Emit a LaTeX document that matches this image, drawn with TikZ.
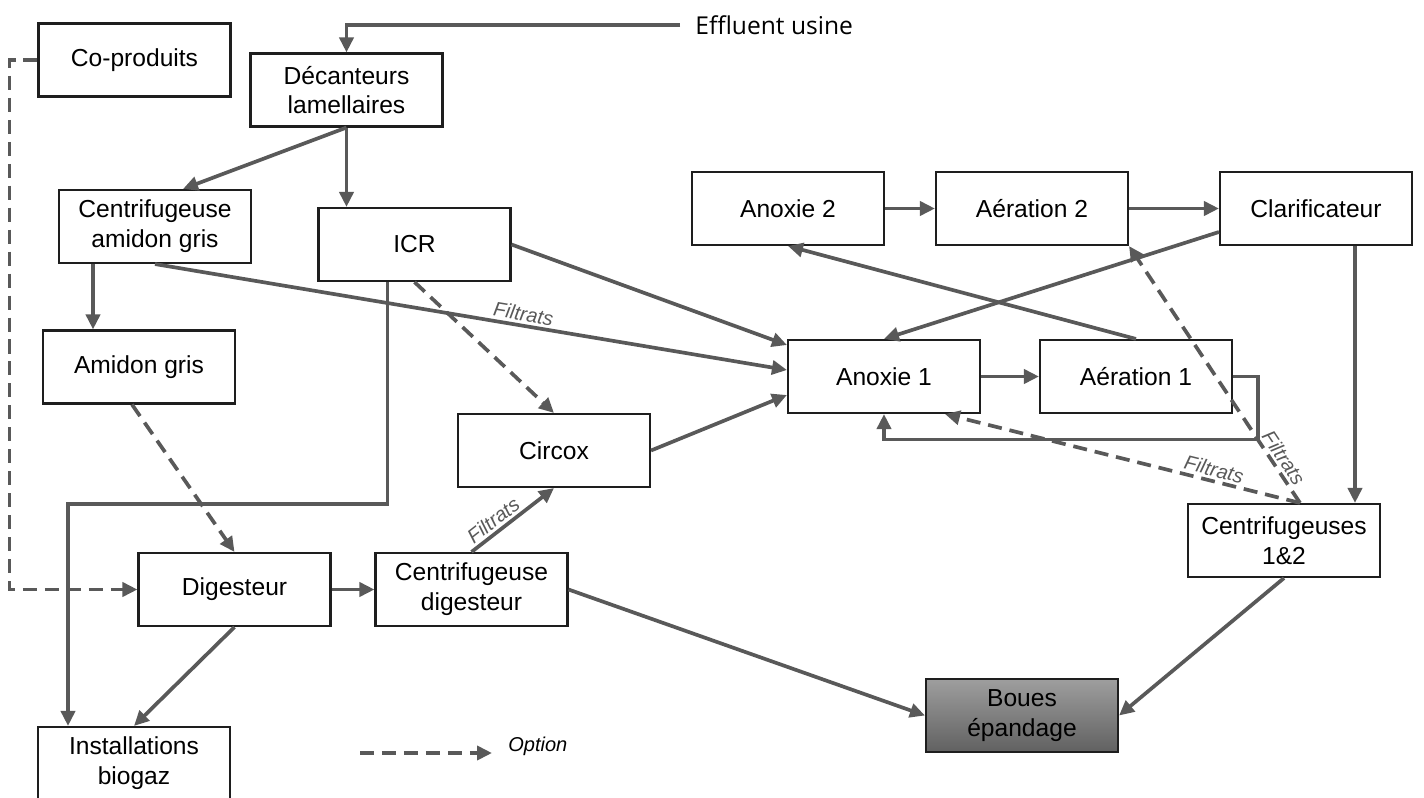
\documentclass[tikz,border=0pt]{standalone}
\usepackage{fontspec}
\setmainfont{Liberation Sans}
\newfontfamily\effluentfont{Open Sans}
\usetikzlibrary{arrows.meta}
\definecolor{flowgray}{HTML}{595959}
\definecolor{boxline}{HTML}{1E1E1E}
\tikzset{
  box/.style={draw=boxline, line width=1.2pt, minimum width=3.84cm, minimum height=1.46cm,
    align=center, inner sep=1pt, font=\fontsize{14}{17}\selectfont},
  flow/.style={draw=flowgray, line width=2.1pt, -{Triangle[length=3mm,width=2.8mm]}},
  option/.style={flow, dash pattern=on 8pt off 4.5pt},
  filt/.style={sloped, inner sep=1.5pt, text=flowgray, font=\fontsize{11.4}{13}\selectfont\itshape},
}
\begin{document}
\begin{tikzpicture}[x=0.02cm, y=-0.02cm]
\useasboundingbox (0,0) rectangle (1424,798);

\node[box] (copro) at (134.5,60) {Co-produits};
\node[box] (decant) at (346.5,90) {Décanteurs\\lamellaires};
\node[box] (cag) at (155,226.5) {Centrifugeuse\\amidon gris};
\node[box] (icr) at (414.5,244.5) {ICR};
\node[box] (amidon) at (139,367) {Amidon gris};
\node[box] (circox) at (554,450.5) {Circox};
\node[box] (digest) at (234.5,589.5) {Digesteur};
\node[box] (cdig) at (471.5,589.5) {Centrifugeuse\\digesteur};
\node[box] (biogaz) at (134,763.5) {Installations\\biogaz};
\node[box] (anox2) at (788,208.5) {Anoxie 2};
\node[box] (aer2) at (1032,208.5) {Aération 2};
\node[box] (clar) at (1316,208.5) {Clarificateur};
\node[box] (anox1) at (884,376.5) {Anoxie 1};
\node[box] (aer1) at (1136,376.5) {Aération 1};
\node[box] (cent) at (1284,540.5) {Centrifugeuses\\1\&2};
\node[box, top color=black!38, bottom color=black!62] (boues) at (1022,715.5) {Boues\\épandage};
\node[anchor=west, inner sep=0pt, font=\effluentfont\fontsize{14}{16}\selectfont] (eff) at (695,25) {Effluent usine};

\draw[flow] ([xshift=-0.3cm]eff.west) -| (decant.north);
\draw[flow] (decant.south) -- ([xshift=0.56cm]cag.north);
\draw[flow] (decant.south) -- (decant.south |- icr.north);
\draw[flow] ([xshift=-1.24cm]cag.south) -- ([xshift=-0.92cm]amidon.north);
\draw[flow] (cag.south) -- node[filt, above, pos=0.58] {Filtrats} ([yshift=0.13cm]anox1.west);
\draw[flow] (icr.east) -- ([yshift=0.63cm]anox1.west);
\draw[option] (icr.south) -- (circox.north);
\draw[flow] ([xshift=-0.54cm]icr.south) -- ++(0,222) -| ([xshift=-1.32cm]biogaz.north);
\draw[flow] (circox.east) -- ([yshift=-0.37cm]anox1.west);
\draw[option] ([xshift=-0.14cm]amidon.south) -- (digest.north);
\draw[option] (copro.west) -- ++(-28,0) |- (digest.west);
\draw[flow] (digest.east) -- (cdig.west);
\draw[flow] (digest.south) -- (biogaz.north);
\draw[flow] (cdig.north) -- node[filt, above, pos=0.35] {Filtrats} (circox.south);
\draw[flow] (cdig.east) -- (boues.west);

\draw[flow] (anox1.east) -- (aer1.west);
\draw[flow] (aer1.north) -- (anox2.south);
\draw[flow] (aer1.east) -- ++(25,0) -- ++(0,63) -| (anox1.south);
\draw[flow] (anox2.east) -- (aer2.west);
\draw[flow] (aer2.east) -- (clar.west);
\draw[flow] ([yshift=-0.47cm]clar.west) -- (anox1.north);
\draw[flow] ([xshift=0.78cm]clar.south) -- ([xshift=0.78cm]clar.south |- cent.north);
\draw[option] ([xshift=0.32cm]cent.north) -- node[filt, above, pos=0.15] {Filtrats} (aer2.south east);
\draw[option] ([xshift=0.32cm]cent.north) -- node[filt, above, pos=0.25] {Filtrats} ([xshift=1.22cm]anox1.south);
\draw[flow] (cent.south) -- (boues.east);

\node[anchor=west, inner sep=0pt, font=\fontsize{11.4}{13}\selectfont\itshape] (opt) at (508,746) {Option};
\coordinate (leg) at (360,753);
\draw[option] (leg) -- ([xshift=-0.32cm]opt.west |- leg);
\end{tikzpicture}
\end{document}
